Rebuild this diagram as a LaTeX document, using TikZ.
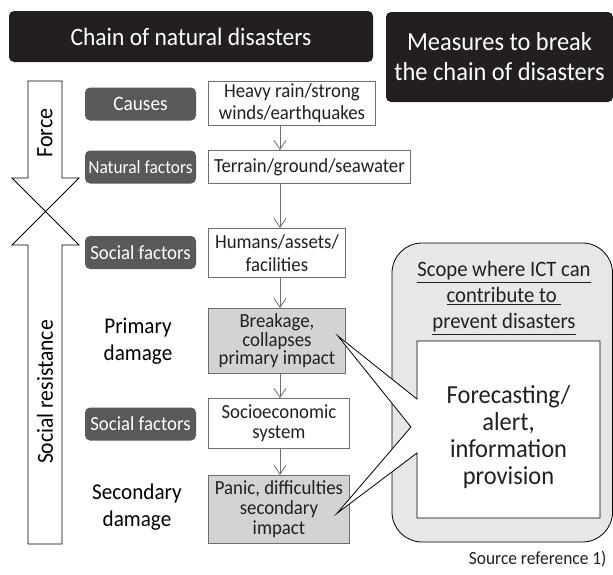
\documentclass[tikz,border=0pt]{standalone}
\usepackage{fontspec}
\setmainfont{Carlito}[FakeStretch=0.94]
\usetikzlibrary{arrows.meta,calc}
\definecolor{titleblack}{HTML}{231F20}
\definecolor{labelgray}{HTML}{58595B}
\definecolor{damagegray}{HTML}{D1D3D4}
\definecolor{scopegray}{HTML}{E6E7E8}
\definecolor{linegray}{HTML}{6D6E71}

\begin{document}
\begin{tikzpicture}[
    x			= 1pt,
    y			= -1pt,
    >=			{Straight Barb[length=9pt, width=12pt]},
    title/.style	= {fill=titleblack, text=white, rounded corners=5pt, inner sep=0pt, align=center},
    factor/.style	= {fill=labelgray, text=white, rounded corners=5pt, inner sep=0pt,
                           minimum width=111pt, minimum height=33pt, font=\fontsize{20.5}{20.5}\selectfont},
    chainbox/.style	= {draw=linegray, line width=0.9pt, fill=white, anchor=north west, inner sep=0pt,
                           align=center, text=titleblack, font=\fontsize{20}{22}\selectfont},
    damagebox/.style	= {chainbox, fill=damagegray, font=\fontsize{20}{18.5}\selectfont},
    flow/.style		= {->, draw=linegray, line width=0.8pt},
    bigarrow/.style	= {draw=black, line width=0.8pt, fill=white}
  ]
\useasboundingbox (0,0) rectangle (613,574);
% headings
\node[title, minimum width=364pt, minimum height=51pt, font=\fontsize{25}{25}\selectfont]
  (chain) at (191,36.5) {Chain of natural disasters};
\node[title, minimum width=227pt, minimum height=90pt, font=\fontsize{26}{30}\selectfont]
  (measures) at (499.5,57) {Measures to break\\the chain of disasters};
% force and social resistance arrows
\draw[bigarrow] (28,81) -- (62,81) -- (62,178) -- (79,178) -- (45.5,211.5) -- (12,178) -- (28,178) -- cycle;
\draw[bigarrow] (28,544) -- (28,245) -- (12,245) -- (45.5,211.5) -- (79,245) -- (62,245) -- (62,544) -- cycle;
\node[rotate=90, font=\fontsize{23.5}{23.5}\selectfont] (force) at (45,133) {Force};
\node[rotate=90, font=\fontsize{23}{23}\selectfont] (resist) at (45,392) {Social resistance};
% factors
\node[factor] (causes) at (140.5,104) {Causes};
\node[factor, font=\fontsize{18.5}{18.5}\selectfont] (natural) at (140.5,167) {Natural factors};
\node[factor, font=\fontsize{20}{20}\selectfont] (social) at (140.5,252.5) {Social factors};
\node[factor, font=\fontsize{20}{20}\selectfont] (socialtwo) at (140.5,424) {Social factors};
% damage labels
\node[align=center, font=\fontsize{22.5}{27}\selectfont] (primary) at (138,341) {Primary\\damage};
\node[align=center, font=\fontsize{22.5}{27}\selectfont] (secondary) at (137,507) {Secondary\\damage};
% chain of boxes
\node[chainbox, minimum width=167pt, minimum height=44pt] (heavy) at (208,81) {Heavy rain/strong\\winds/earthquakes};
\node[chainbox, minimum width=202pt, minimum height=33pt] (terrain) at (208,150) {Terrain/ground/seawater};
\node[chainbox, minimum width=137pt, minimum height=49pt, font=\fontsize{20}{23}\selectfont] (humans) at (208,228) {Humans/assets/\\facilities};
\node[damagebox, minimum width=137pt, minimum height=65pt] (breakage) at (208,308) {Breakage,\\collapses\\primary impact};
\node[chainbox, minimum width=141pt, minimum height=50pt, font=\fontsize{20}{19.5}\selectfont] (socio) at (208,398) {Socioeconomic\\system};
\node[damagebox, minimum width=141pt, minimum height=68pt, font=\fontsize{20}{20}\selectfont] (panic) at (208,475) {Panic, difficulties\\secondary\\impact};
% arrows down the chain
\coordinate (col) at (280,0);
\draw[flow] (heavy.south -| col) -- (terrain.north -| col);
\draw[flow] (terrain.south -| col) -- (humans.north -| col);
\draw[flow] (humans.south -| col) -- (breakage.north -| col);
\draw[flow] (breakage.south -| col) -- (socio.north -| col);
\draw[flow] (socio.south -| col) -- (panic.north -| col);
% scope of ICT
\node[draw=black, line width=0.8pt, fill=scopegray, rounded corners=30pt,
  minimum width=220.5pt, minimum height=299pt, inner sep=0pt] (scope) at (502.25,392.5) {};
\node[align=center, text=titleblack, font=\fontsize{22}{26}\selectfont] (scopetext) at (504,298)
  {\underline{Scope where ICT can}\\\underline{contribute to\ }\\\underline{prevent disasters}};
% callout with two tails
\coordinate (hitone) at ($(breakage.east)+(-8,-5)$);
\coordinate (hittwo) at ($(panic.east)+(-13,4)$);
\draw[fill=white, line width=0.8pt] (417,341) -- (600,341) -- (600,518) -- (417,518) -- (417,453)
  -- (hittwo) -- (411,427) -- (hitone) -- (417,399) -- cycle;
\node[align=center, text=titleblack, font=\fontsize{26}{27}\selectfont] (forecast) at (508.5,437)
  {Forecasting/\\alert,\\information\\provision};
% source
\node[anchor=east, text=titleblack, font=\fontsize{18.5}{18.5}\selectfont] (source) at (610,559) {Source reference 1)};
%
\end{tikzpicture}
\end{document}
